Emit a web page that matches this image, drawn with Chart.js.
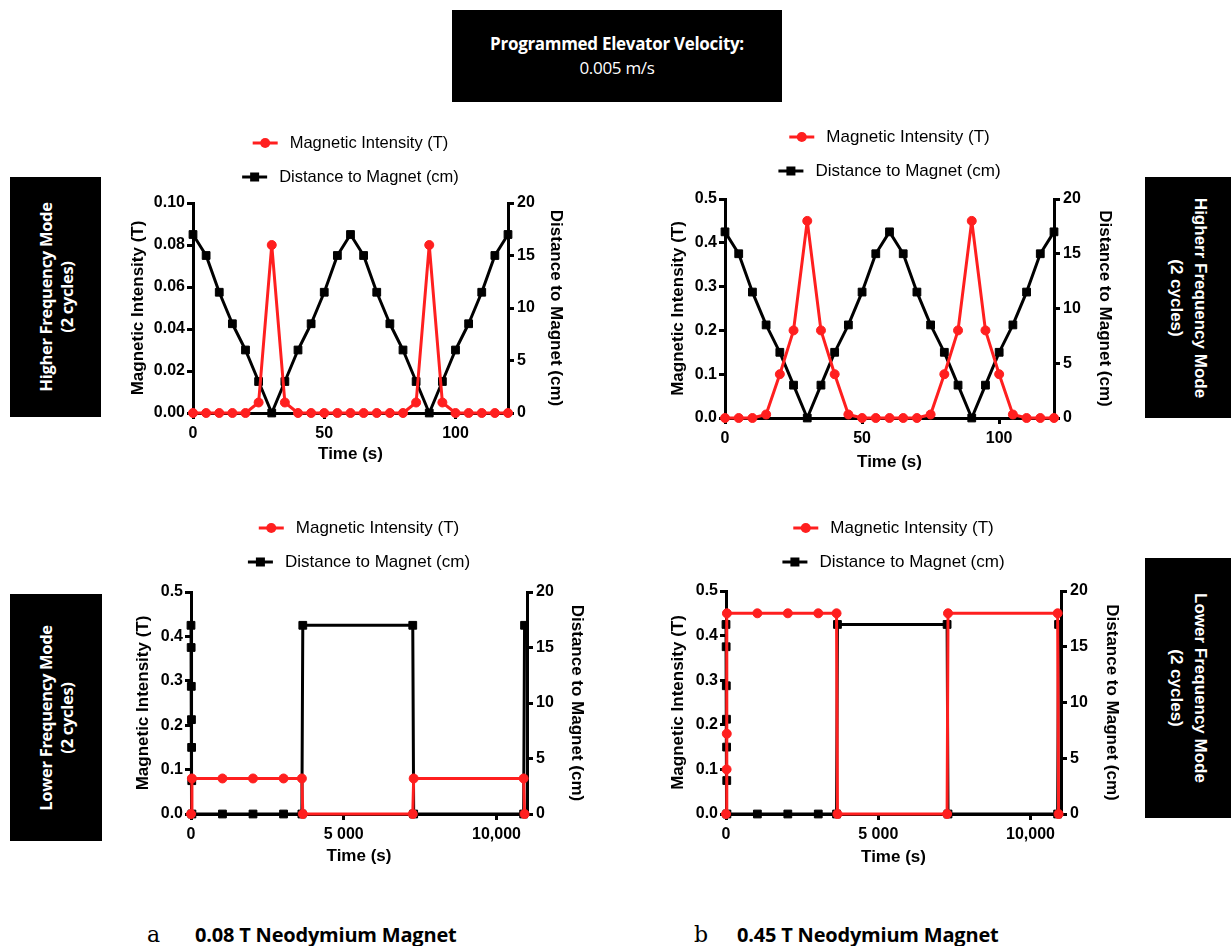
<!DOCTYPE html>
<html>
<head>
<meta charset="utf-8">
<script src="https://cdn.jsdelivr.net/npm/chart.js@4.4.1/dist/chart.umd.min.js"></script>
<style>
  body { margin: 0; background: #fff; }
  #page { position: relative; width: 1231px; height: 946px; overflow: hidden; background: #fff; }
  canvas { position: absolute; }
  .box { position: absolute; background: #000; color: #fff; }
  .rot { position: absolute; left: 50%; top: 50%; white-space: nowrap; text-align: center; }
  .side-l { transform: translate(-50%, -50%) rotate(-90deg); font: 700 16.5px 'Open Sans', sans-serif; line-height: 21px; letter-spacing: -0.3px; }
  .side-r { transform: translate(-50%, -50%) rotate(90deg); font: 700 17px 'Liberation Sans', Arial, sans-serif; line-height: 24px; }
  .head { display: flex; flex-direction: column; justify-content: center; align-items: center;
          font: 17px 'Open Sans', sans-serif; line-height: 24px; letter-spacing: -0.3px; }
  .head b { font-weight: 700; }
  .cap { position: absolute; top: 920px; font: 700 20px 'Open Sans', sans-serif; line-height: 30px; letter-spacing: -0.2px; }
  .tag { position: absolute; top: 920px; font: 22px 'DejaVu Serif', serif; line-height: 30px; }
</style>
</head>
<body>
<div id="page">
  <div class="box head" style="left:452px;top:10px;width:330px;height:92px">
    <b>Programmed Elevator Velocity:</b>
    <span>0.005 m/s</span>
  </div>

  <div class="box" style="left:10px;top:177px;width:91px;height:240px">
    <div class="rot side-l">Higher Frequency Mode<br>(2 cycles)</div>
  </div>
  <div class="box" style="left:10px;top:594px;width:92px;height:247px">
    <div class="rot side-l">Lower Frequency Mode<br>(2 cycles)</div>
  </div>
  <div class="box" style="left:1145px;top:177px;width:86px;height:241px">
    <div class="rot side-r">Higherr Frequency Mode<br>(2 cycles)</div>
  </div>
  <div class="box" style="left:1145px;top:558px;width:86px;height:260px">
    <div class="rot side-r">Lower Frequency Mode<br>(2 cycles)</div>
  </div>

  <canvas id="hiA" width="470" height="362" style="left:110px;top:120px"></canvas>
  <canvas id="hiB" width="480" height="370" style="left:650px;top:120px"></canvas>
  <canvas id="loA" width="490" height="385" style="left:110px;top:500px"></canvas>
  <canvas id="loB" width="490" height="385" style="left:650px;top:500px"></canvas>

  <span class="tag" style="left:147px">a</span>
  <span class="cap" style="left:195px">0.08 T Neodymium Magnet</span>
  <span class="tag" style="left:694px">b</span>
  <span class="cap" style="left:737px">0.45 T Neodymium Magnet</span>
</div>

<script>
// higher frequency mode: one reading every 5 s
const hiTime = [0, 5, 10, 15, 20, 25, 30, 35, 40, 45, 50, 55, 60, 65, 70, 75, 80, 85, 90, 95, 100, 105, 110, 115, 120];
const hiDistance = [17, 15, 11.5, 8.5, 6, 3, 0, 3, 6, 8.5, 11.5, 15, 17, 15, 11.5, 8.5, 6, 3, 0, 3, 6, 8.5, 11.5, 15, 17];
const hiFieldA = [0, 0, 0, 0, 0, 0.005, 0.08, 0.005, 0, 0, 0, 0, 0, 0, 0, 0, 0, 0.005, 0.08, 0.005, 0, 0, 0, 0, 0];
const hiFieldB = [0, 0, 0, 0.008, 0.1, 0.2, 0.45, 0.2, 0.1, 0.008, 0, 0, 0, 0, 0, 0.008, 0.1, 0.2, 0.45, 0.2, 0.1, 0.008, 0, 0, 0];

// lower frequency mode: approach, hold an hour, retreat, hold, approach...
const loDistTime = [0, 5, 10, 15, 20, 25, 30, 1030, 2030, 3030, 3630, 3660, 7260, 7290, 10890, 10920];
const loDistance = [17, 15, 11.5, 8.5, 6, 3, 0, 0, 0, 0, 0, 17, 17, 0, 0, 17];
const loTimeA = [0, 30, 1030, 2030, 3030, 3630, 3660, 7260, 7290, 10890, 10920];
const loFieldA = [0, 0.08, 0.08, 0.08, 0.08, 0.08, 0, 0, 0.08, 0.08, 0];
const loTimeB = [0, 20, 25, 30, 1030, 2030, 3030, 3630, 3660, 7260, 7290, 10890, 10920];
const loFieldB = [0, 0.1, 0.18, 0.45, 0.45, 0.45, 0.45, 0.45, 0, 0, 0.45, 0.45, 0];

// axis ticks
const hiTimeTicks = [0, 50, 100];
const loTimeTicks = [0, 5000, 10000];
const loTimeLabels = ['0', '5 000', '10,000'];
const distTicks = [0, 5, 10, 15, 20];
const fieldTicksSmall = [0, 0.02, 0.04, 0.06, 0.08, 0.10];
const fieldTicksLarge = [0, 0.1, 0.2, 0.3, 0.4, 0.5];

const FONT = "'Liberation Sans', Arial, sans-serif";
const RED = '#ff1f1f';

const pairs = (xs, ys) => xs.map((x, i) => ({ x: x, y: ys[i] }));

// legend drawn as two centred rows above the plot, like the Prism export
const rowLegend = {
  id: 'rowLegend',
  afterDraw(chart, args, opts) {
    const { ctx, chartArea } = chart;
    const cx = (chartArea.left + chartArea.right) / 2;
    ctx.save();
    ctx.font = opts.size + 'px ' + FONT;
    ctx.textBaseline = 'middle';
    chart.data.datasets.forEach((ds, i) => {
      const y = chartArea.top - opts.top + i * opts.gap;
      const tw = ctx.measureText(ds.label).width;
      const x0 = cx - (25 + 12 + tw) / 2;
      ctx.strokeStyle = ds.borderColor;
      ctx.fillStyle = ds.borderColor;
      ctx.lineWidth = 3;
      ctx.beginPath();
      ctx.moveTo(x0, y);
      ctx.lineTo(x0 + 25, y);
      ctx.stroke();
      if (ds.pointStyle === 'rect') {
        ctx.fillRect(x0 + 12.5 - 4.5, y - 4.5, 9, 9);
      } else {
        ctx.beginPath();
        ctx.arc(x0 + 12.5, y, 5, 0, Math.PI * 2);
        ctx.fill();
      }
      ctx.fillStyle = '#000';
      ctx.fillText(ds.label, x0 + 37, y);
    });
    ctx.restore();
  }
};

function axisLook() {
  return {
    border: { display: true, color: '#000', width: 3 },
    grid: { display: true, drawOnChartArea: false, drawTicks: true, tickLength: 6, tickWidth: 3, tickColor: '#000' },
  };
}

function makeChart(id, g) {
  new Chart(document.getElementById(id), {
    type: 'line',
    data: {
      datasets: [
        {
          label: 'Magnetic Intensity (T)',
          data: g.field,
          yAxisID: 'yField',
          borderColor: RED,
          backgroundColor: RED,
          borderWidth: 3,
          borderJoinStyle: 'round',
          pointStyle: 'circle',
          pointRadius: 4.5,
          pointBorderWidth: 1,
          pointBackgroundColor: RED,
          pointBorderColor: RED,
          clip: false,
        },
        {
          label: 'Distance to Magnet (cm)',
          data: g.dist,
          yAxisID: 'yDist',
          borderColor: '#000',
          backgroundColor: '#000',
          borderWidth: 3,
          borderJoinStyle: 'round',
          pointStyle: 'rect',
          pointRadius: 5.5,
          pointBorderWidth: 1,
          pointBackgroundColor: '#000',
          pointBorderColor: '#000',
          clip: false,
        },
      ],
    },
    options: {
      responsive: false,
      animation: false,
      events: [],
      layout: { padding: { top: g.top, left: 0, right: 0, bottom: 0 } },
      plugins: {
        legend: { display: false },
        tooltip: { enabled: false },
        rowLegend: { size: g.legendSize, top: g.legendTop, gap: 34 },
      },
      scales: {
        x: {
          type: 'linear',
          min: 0,
          max: g.timeMax,
          ...axisLook(),
          afterFit: (s) => { s.height = g.bottom; },
          afterBuildTicks: (s) => { s.ticks = g.timeTicks.map((v) => ({ value: v })); },
          ticks: {
            color: '#000',
            padding: 5,
            maxRotation: 0,
            font: { family: FONT, size: 16, weight: 'bold' },
            callback: (v, i) => g.timeLabels ? g.timeLabels[i] : String(v),
          },
          title: {
            display: true,
            text: 'Time (s)',
            color: '#000',
            font: { family: FONT, size: 17, weight: 'bold' },
            padding: { top: 0, bottom: g.xtPad },
          },
        },
        yField: {
          type: 'linear',
          position: 'left',
          min: 0,
          max: g.fieldMax,
          ...axisLook(),
          afterFit: (s) => { s.width = g.left; },
          afterBuildTicks: (s) => { s.ticks = g.fieldTicks.map((v) => ({ value: v })); },
          ticks: {
            color: '#000',
            padding: 2,
            font: { family: FONT, size: 16, weight: 'bold' },
            callback: (v) => v.toFixed(g.digits),
          },
          title: {
            display: true,
            text: 'Magnetic Intensity (T)',
            color: '#000',
            font: { family: FONT, size: 17, weight: 'bold' },
            padding: { top: g.ltPad, bottom: 0 },
          },
        },
        yDist: {
          type: 'linear',
          position: 'right',
          min: 0,
          max: 20,
          ...axisLook(),
          afterFit: (s) => { s.width = g.right; },
          afterBuildTicks: (s) => { s.ticks = distTicks.map((v) => ({ value: v })); },
          ticks: {
            color: '#000',
            padding: 3,
            font: { family: FONT, size: 16, weight: 'bold' },
          },
          title: {
            display: true,
            text: 'Distance to Magnet (cm)',
            color: '#000',
            font: { family: FONT, size: 17, weight: 'bold' },
            padding: { top: g.rtPad, bottom: 0 },
          },
        },
      },
    },
    plugins: [rowLegend],
  });
}

makeChart('hiA', {
  field: pairs(hiTime, hiFieldA), dist: pairs(hiTime, hiDistance),
  fieldMax: 0.1, fieldTicks: fieldTicksSmall, digits: 2,
  timeMax: 120, timeTicks: hiTimeTicks,
  top: 83, left: 83, right: 72, bottom: 69,
  ltPad: 18, rtPad: 14, xtPad: 17,
  legendSize: 16.5, legendTop: 60,
});

makeChart('hiB', {
  field: pairs(hiTime, hiFieldB), dist: pairs(hiTime, hiDistance),
  fieldMax: 0.5, fieldTicks: fieldTicksLarge, digits: 1,
  timeMax: 120, timeTicks: hiTimeTicks,
  top: 79, left: 75, right: 76, bottom: 72,
  ltPad: 18, rtPad: 15, xtPad: 17,
  legendSize: 17, legendTop: 62,
});

makeChart('loA', {
  field: pairs(loTimeA, loFieldA), dist: pairs(loDistTime, loDistance),
  fieldMax: 0.5, fieldTicks: fieldTicksLarge, digits: 1,
  timeMax: 11000, timeTicks: loTimeTicks, timeLabels: loTimeLabels,
  top: 92, left: 81, right: 73, bottom: 71,
  ltPad: 23, rtPad: 13, xtPad: 18,
  legendSize: 17, legendTop: 64,
});

makeChart('loB', {
  field: pairs(loTimeB, loFieldB), dist: pairs(loDistTime, loDistance),
  fieldMax: 0.5, fieldTicks: fieldTicksLarge, digits: 1,
  timeMax: 11000, timeTicks: loTimeTicks, timeLabels: loTimeLabels,
  top: 91, left: 76, right: 79, bottom: 71,
  ltPad: 18, rtPad: 18, xtPad: 17,
  legendSize: 17, legendTop: 63,
});
</script>
</body>
</html>
